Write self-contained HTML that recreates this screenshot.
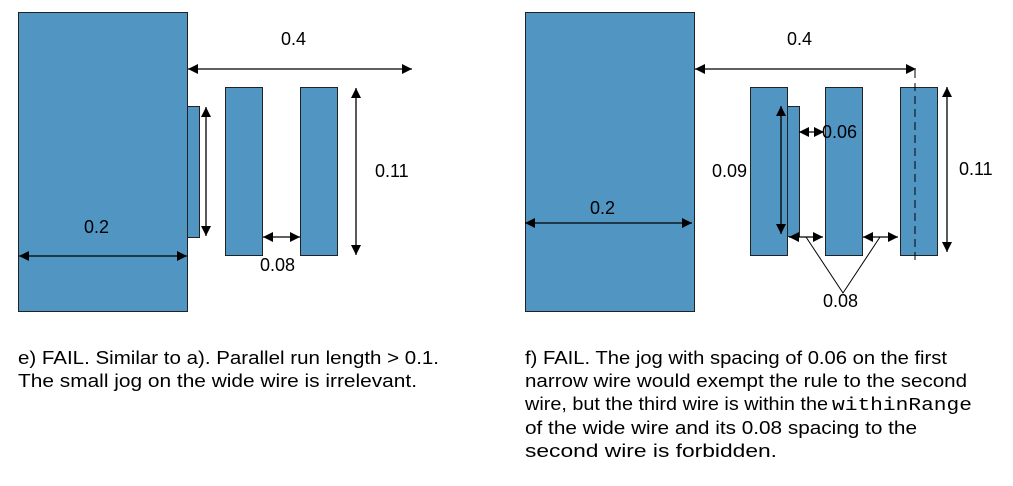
<!DOCTYPE html>
<html><head><meta charset="utf-8"><style>
html,body{margin:0;padding:0;background:#fff;}
svg{display:block;}
text{font-family:"Liberation Sans",Arial,sans-serif;fill:#000;}
text.m{font-family:"Liberation Mono",monospace;}
</style></head><body>
<svg width="1013" height="486" xmlns="http://www.w3.org/2000/svg">
<defs>
<marker id="a" viewBox="0 0 10 10" refX="10" refY="5" markerWidth="10" markerHeight="10" markerUnits="userSpaceOnUse" orient="auto-start-reverse"><path d="M0,0 L10,5 L0,10 z" fill="#000"/></marker>
</defs>
<g fill="#5195c3" stroke="#222" stroke-width="1">
<rect x="18.5" y="12.5" width="169" height="299"/>
<rect x="187.5" y="106.5" width="12" height="131"/>
<rect x="225.5" y="87.5" width="37" height="168"/>
<rect x="300.5" y="87.5" width="37" height="168"/>
<rect x="525.5" y="12.5" width="169" height="299"/>
<rect x="750.5" y="87.5" width="37" height="168"/>
<rect x="787.5" y="106.5" width="12" height="130"/>
<rect x="825.5" y="87.5" width="37" height="168"/>
<rect x="900.5" y="87.5" width="37" height="168"/>
</g>
<g stroke="#000" stroke-width="1.3" fill="none" marker-start="url(#a)" marker-end="url(#a)">
<line x1="188" y1="69" x2="412" y2="69"/>
<line x1="206" y1="107" x2="206" y2="236"/>
<line x1="356" y1="88" x2="356" y2="255"/>
<line x1="263" y1="237" x2="300" y2="237"/>
<line x1="19" y1="256" x2="187" y2="256"/>
<line x1="695" y1="69" x2="916" y2="69"/>
<line x1="947" y1="87" x2="947" y2="252"/>
<line x1="781" y1="106" x2="781" y2="234"/>
<line x1="799" y1="132" x2="824" y2="132"/>
<line x1="525" y1="223" x2="692" y2="223"/>
<line x1="789" y1="237" x2="823" y2="237"/>
<line x1="863" y1="237" x2="898" y2="237"/>
</g>
<line x1="915" y1="70" x2="915" y2="262" stroke="#000" stroke-width="1" stroke-dasharray="8,5"/>
<polyline points="806,237 843,293 880,237" fill="none" stroke="#000" stroke-width="1"/>
<g font-size="18">
<text x="281" y="45">0.4</text>
<text x="375" y="177">0.11</text>
<text x="84" y="233">0.2</text>
<text x="260" y="271">0.08</text>
<text x="787" y="45">0.4</text>
<text x="959" y="175">0.11</text>
<text x="590" y="214">0.2</text>
<text x="712" y="177">0.09</text>
<text x="822" y="138">0.06</text>
<text x="823" y="307">0.08</text>
</g>
<g font-size="18">
<text x="18" y="364" textLength="421" lengthAdjust="spacingAndGlyphs">e) FAIL. Similar to a). Parallel run length &gt; 0.1.</text>
<text x="18" y="387" textLength="399" lengthAdjust="spacingAndGlyphs">The small jog on the wide wire is irrelevant.</text>
<text x="525" y="364" textLength="422" lengthAdjust="spacingAndGlyphs">f) FAIL. The jog with spacing of 0.06 on the first</text>
<text x="525" y="387" textLength="442" lengthAdjust="spacingAndGlyphs">narrow wire would exempt the rule to the second</text>
<text x="525" y="410" textLength="303" lengthAdjust="spacingAndGlyphs">wire, but the third wire is within the</text>
<text class="m" x="832" y="410" textLength="140" lengthAdjust="spacingAndGlyphs">withinRange</text>
<text x="525" y="434" textLength="392" lengthAdjust="spacingAndGlyphs">of the wide wire and its 0.08 spacing to the</text>
<text x="525" y="457" textLength="252" lengthAdjust="spacingAndGlyphs">second wire is forbidden.</text>
</g>
</svg>
</body></html>
